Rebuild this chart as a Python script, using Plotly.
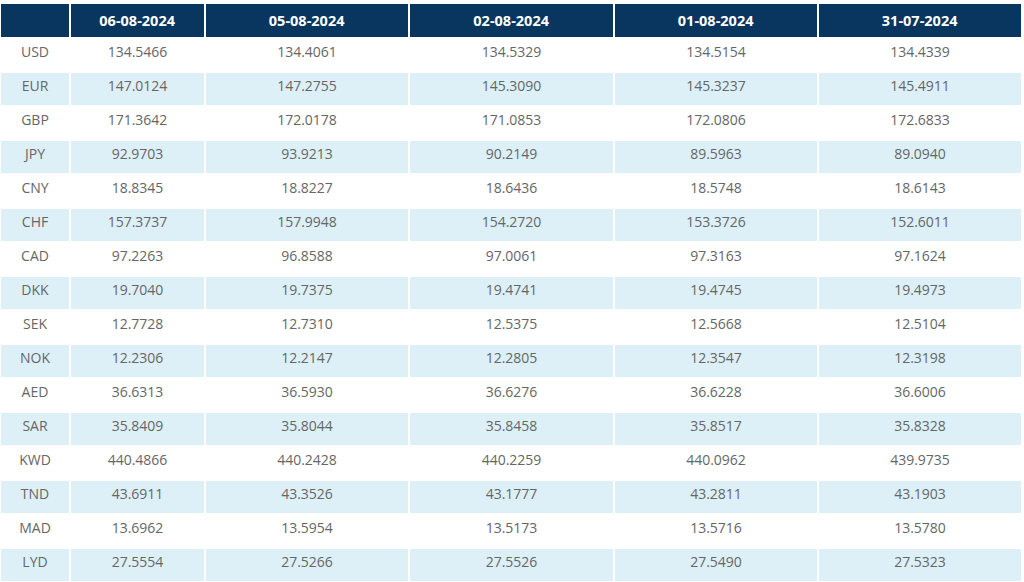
import plotly.graph_objects as go

dates = ["06-08-2024", "05-08-2024", "02-08-2024", "01-08-2024", "31-07-2024"]
currencies = ["USD", "EUR", "GBP", "JPY", "CNY", "CHF", "CAD", "DKK", "SEK", "NOK",
              "AED", "SAR", "KWD", "TND", "MAD", "LYD"]
d_0608 = ["134.5466", "147.0124", "171.3642", "92.9703", "18.8345", "157.3737", "97.2263", "19.7040",
          "12.7728", "12.2306", "36.6313", "35.8409", "440.4866", "43.6911", "13.6962", "27.5554"]
d_0508 = ["134.4061", "147.2755", "172.0178", "93.9213", "18.8227", "157.9948", "96.8588", "19.7375",
          "12.7310", "12.2147", "36.5930", "35.8044", "440.2428", "43.3526", "13.5954", "27.5266"]
d_0208 = ["134.5329", "145.3090", "171.0853", "90.2149", "18.6436", "154.2720", "97.0061", "19.4741",
          "12.5375", "12.2805", "36.6276", "35.8458", "440.2259", "43.1777", "13.5173", "27.5526"]
d_0108 = ["134.5154", "145.3237", "172.0806", "89.5963", "18.5748", "153.3726", "97.3163", "19.4745",
          "12.5668", "12.3547", "36.6228", "35.8517", "440.0962", "43.2811", "13.5716", "27.5490"]
d_3107 = ["134.4339", "145.4911", "172.6833", "89.0940", "18.6143", "152.6011", "97.1624", "19.4973",
          "12.5104", "12.3198", "36.6006", "35.8328", "439.9735", "43.1903", "13.5780", "27.5323"]

fills = ["#ffffff" if i % 2 == 0 else "#ddf0f8" for i in range(len(currencies))]

fig = go.Figure(go.Table(
    columnwidth=[70, 135, 204, 205, 204, 204],
    header=dict(
        values=[""] + [f"<b>{d}</b>" for d in dates],
        fill_color="#08365f",
        line=dict(color="#ffffff", width=2),
        font=dict(family="Open Sans", size=14.5, color="#ffffff"),
        align="center",
        height=34,
    ),
    cells=dict(
        values=[currencies, d_0608, d_0508, d_0208, d_0108, d_3107],
        fill_color=[fills] * 6,
        line=dict(color="#ffffff", width=2),
        font=dict(family="Open Sans", size=14, color="#666666"),
        align="center",
        height=34,
    ),
))

fig.update_layout(
    width=1024, height=582,
    margin=dict(l=0, r=2, t=3, b=0),
    paper_bgcolor="#ffffff",
)

fig.write_html(
    "out.html",
    config={"displayModeBar": False},
    post_script="document.body.style.margin='0';document.body.style.overflow='hidden';"
                "Plotly.relayout(document.getElementById('{plot_id}'), {width: 1024, height: 582});",
)
